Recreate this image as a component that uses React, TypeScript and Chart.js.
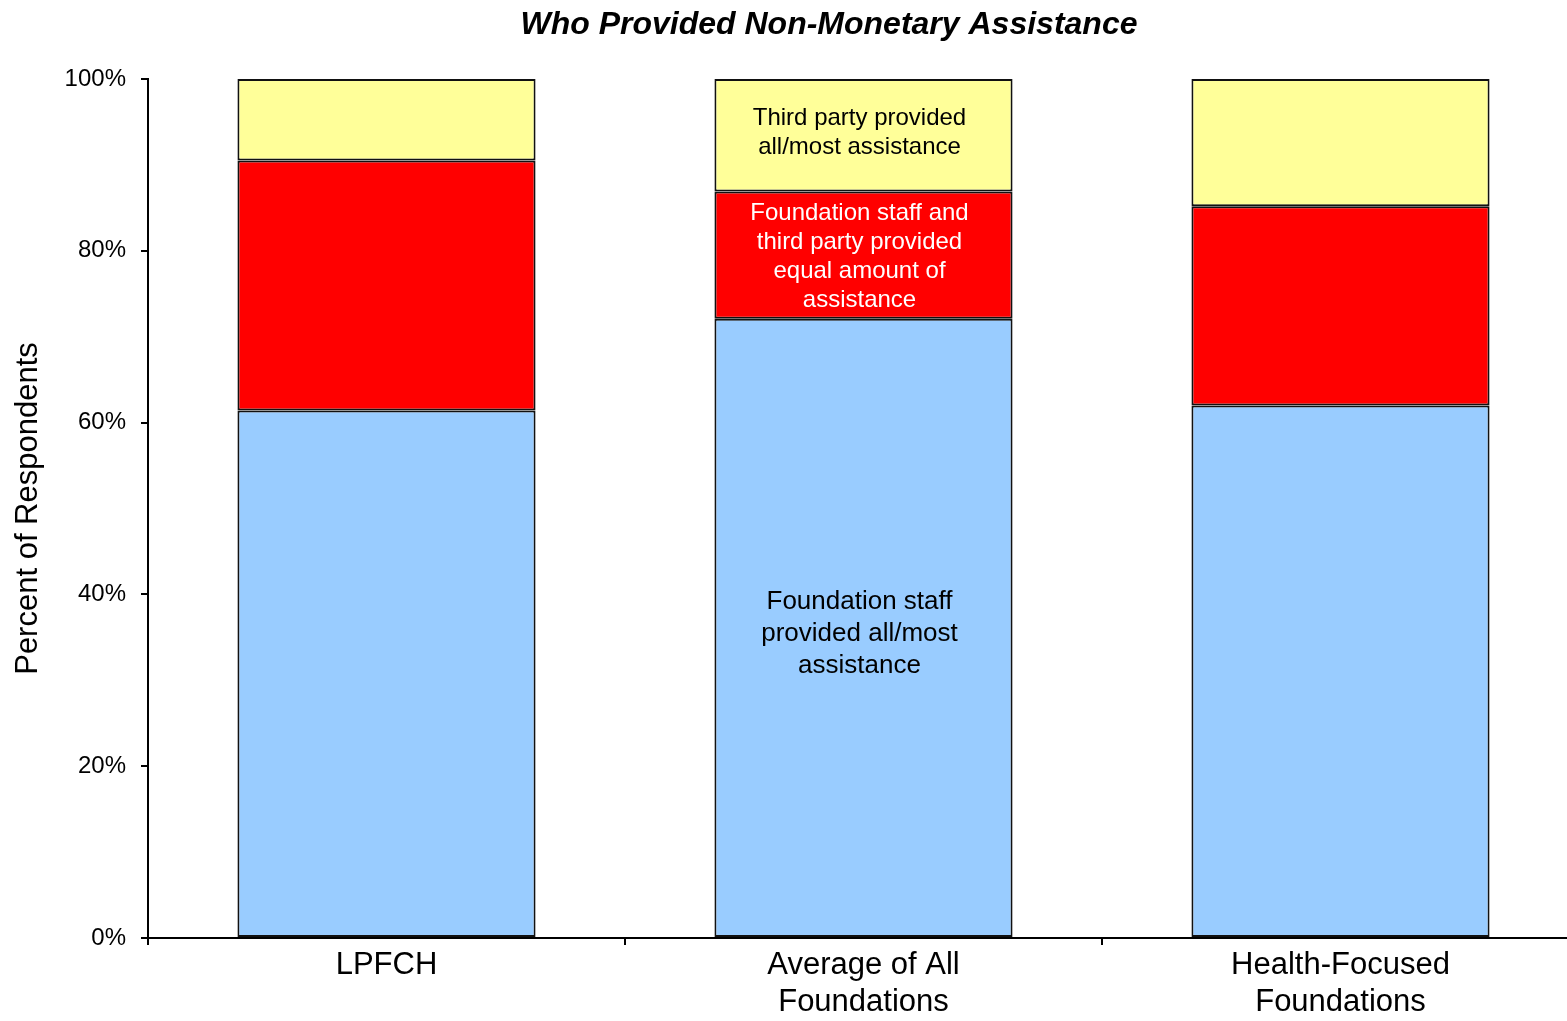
import React, { useEffect, useRef } from "react";
import { Chart, registerables } from "chart.js";

Chart.register(...registerables);

const categories: (string | string[])[] = ["LPFCH", ["Average of All", "Foundations"], ["Health-Focused", "Foundations"]];
const staffValues = [61.4, 72.1, 62.0];
const equalValues = [29.1, 14.8, 23.2];
const thirdPartyValues = [9.5, 13.1, 14.8];
const seriesNames = [
  "Foundation staff provided all/most assistance",
  "Foundation staff and third party provided equal amount of assistance",
  "Third party provided all/most assistance",
];
const seriesLabelLines = [
  ["Foundation staff", "provided all/most", "assistance"],
  ["Foundation staff and", "third party provided", "equal amount of", "assistance"],
  ["Third party provided", "all/most assistance"],
];
const labelledCategory = 1;
const yTicks = [0, 20, 40, 60, 80, 100];
const titleText = "Who Provided Non-Monetary Assistance";
const yTitleText = "Percent of Respondents";

const FONT = '"Liberation Sans", Arial, sans-serif';

const overlayPlugin = {
  id: "overlay",
  afterDatasetsDraw(chart: any) {
    const ctx = chart.ctx;
    ctx.save();
    ctx.textAlign = "center";
    ctx.textBaseline = "middle";
    const styles = [
      { size: 26, lh: 32, color: "#000000", dy: 6 },
      { size: 24, lh: 29, color: "#FFFFFF", dy: 2 },
      { size: 24, lh: 29, color: "#000000", dy: -2 },
    ];
    chart.data.datasets.forEach((_ds: any, i: number) => {
      const el = chart.getDatasetMeta(i).data[labelledCategory];
      if (!el) return;
      const { x, y, base } = el.getProps(["x", "y", "base"], true);
      const st = styles[i];
      const cy = (y + base) / 2 + st.dy;
      const lines = seriesLabelLines[i];
      ctx.font = `${st.size}px ${FONT}`;
      ctx.fillStyle = st.color;
      const start = cy - ((lines.length - 1) * st.lh) / 2;
      lines.forEach((ln, k) => ctx.fillText(ln, x - 4, start + k * st.lh));
    });
    ctx.restore();
  },
  afterDraw(chart: any) {
    const ctx = chart.ctx;
    const area = chart.chartArea;
    ctx.save();
    ctx.fillStyle = "#000000";
    ctx.textAlign = "center";
    ctx.textBaseline = "middle";
    ctx.font = `italic bold 32px ${FONT}`;
    ctx.fillText(titleText, 829, 25);
    ctx.translate(28, (area.top + area.bottom) / 2);
    ctx.rotate(-Math.PI / 2);
    ctx.font = `31px ${FONT}`;
    ctx.fillText(yTitleText, 0, 0);
    ctx.restore();
  },
};

export default function App() {
  const ref = useRef<HTMLCanvasElement | null>(null);
  useEffect(() => {
    if (!ref.current) return;
    const colors = ["#99CCFF", "#FF0000", "#FFFF99"];
    const values = [staffValues, equalValues, thirdPartyValues];
    const chart = new Chart(ref.current, {
      type: "bar",
      data: {
        labels: categories as any,
        datasets: values.map((v, i) => ({
          label: seriesNames[i],
          data: v,
          backgroundColor: colors[i],
          borderColor: "#111111",
          borderWidth: 2,
          borderSkipped: false,
          barPercentage: 0.625,
          categoryPercentage: 1,
        })),
      },
      options: {
        animation: false,
        responsive: false,
        layout: { padding: { top: 79, right: 0, left: 0, bottom: 0 } },
        plugins: {
          legend: { display: false },
          tooltip: { enabled: false },
          title: { display: false },
        },
        scales: {
          x: {
            stacked: true,
            offset: true,
            grid: {
              display: true,
              drawOnChartArea: false,
              drawTicks: true,
              tickLength: 7,
              color: "#000000",
              lineWidth: 2,
              offset: true,
            },
            border: { display: true, color: "#000000", width: 2 },
            ticks: {
              font: { family: FONT, size: 31 },
              color: "#000000",
              padding: 2,
              maxRotation: 0,
              autoSkip: false,
            },
            afterFit(scale: any) {
              scale.height = 83;
            },
          },
          y: {
            stacked: true,
            min: 0,
            max: 100,
            afterBuildTicks(scale: any) {
              scale.ticks = yTicks.map((v) => ({ value: v }));
            },
            grid: {
              display: true,
              drawOnChartArea: false,
              drawTicks: true,
              tickLength: 7,
              color: "#000000",
              lineWidth: 2,
            },
            border: { display: true, color: "#000000", width: 2 },
            ticks: {
              font: { family: FONT, size: 24 },
              color: "#000000",
              padding: 15,
              callback: (v: any) => `${v}%`,
            },
            afterFit(scale: any) {
              scale.width = 148;
            },
          },
        },
      },
      plugins: [overlayPlugin],
    });
    return () => chart.destroy();
  }, []);
  return (
    <div style={{ position: "fixed", left: 0, top: 0, width: 1567, height: 1021, overflow: "hidden", background: "#fff" }}>
      <canvas ref={ref} width={1579} height={1021} style={{ display: "block" }} />
    </div>
  );
}
